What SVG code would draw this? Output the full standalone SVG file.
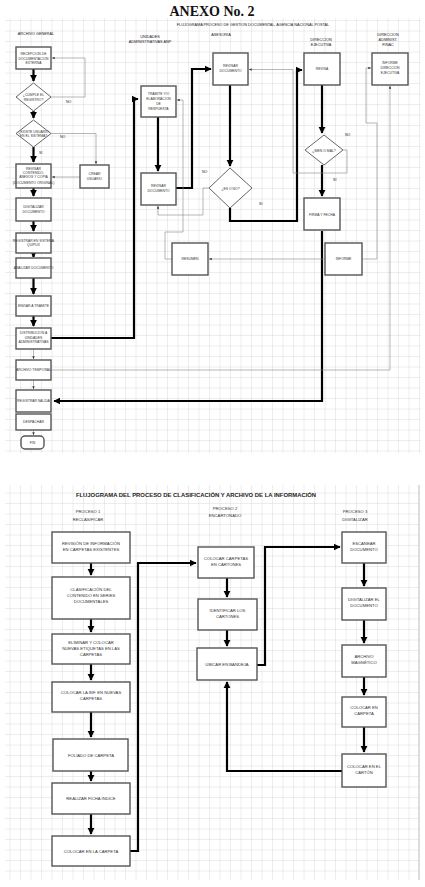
<svg xmlns="http://www.w3.org/2000/svg" width="425" height="887" viewBox="0 0 425 887">
<defs>
<pattern id="grid" width="10.5" height="10.5" patternUnits="userSpaceOnUse">
<path d="M10.5 0V10.5H0" fill="none" stroke="#c4c4c4" stroke-width="0.6"/>
</pattern>
<marker id="ah" viewBox="0 0 10 10" refX="9" refY="5" markerWidth="3.2" markerHeight="3.2" orient="auto" markerUnits="strokeWidth">
<path d="M0 0L10 5L0 10z" fill="#000"/>
</marker>
<marker id="at" viewBox="0 0 10 10" refX="9" refY="5" markerWidth="5" markerHeight="5" orient="auto" markerUnits="strokeWidth">
<path d="M0 1L10 5L0 9z" fill="#333"/>
</marker>
</defs>
<style>
.bx{fill:#fff;stroke:#555;stroke-width:1.4}
.dm{fill:#fff;stroke:#555;stroke-width:0.9}
.t{font-family:"Liberation Sans",Arial,sans-serif;font-size:3.4px;fill:#333;text-anchor:middle}
.tb{font-family:"Liberation Sans",Arial,sans-serif;font-size:4.2px;fill:#333;text-anchor:middle}
.h{font-family:"Liberation Sans",Arial,sans-serif;font-size:3.8px;fill:#222;text-anchor:middle}
.lb{font-family:"Liberation Sans",Arial,sans-serif;font-size:3.6px;fill:#222}
.thick{fill:none;stroke:#000;stroke-width:2.2}
.thin{fill:none;stroke:#888;stroke-width:0.6}
</style>
<rect width="425" height="887" fill="#fff"/>
<rect x="5" y="18" width="416" height="435" fill="url(#grid)"/>
<rect x="5" y="485" width="414" height="395" fill="url(#grid)"/>
<line x1="419" y1="485" x2="419" y2="880" stroke="#bbb" stroke-width="1"/>

<text x="212" y="16" font-family="Liberation Serif,serif" font-size="14" font-weight="bold" text-anchor="middle" fill="#111">ANEXO No. 2</text>
<text x="253" y="26" class="h" font-size="3.4">FLUJOGRAMA PROCESO DE GESTION DOCUMENTAL, AGENCIA NACIONAL POSTAL</text>
<g id="headers">
<text x="36" y="35" class="h">ARCHIVO GENERAL</text>
<text x="150" y="38" class="h">UNIDADES</text>
<text x="150" y="43" class="h">ADMINISTRATIVAS ANP</text>
<text x="221" y="36" class="h">ASESORIA</text>
<text x="321" y="41" class="h">DIRECCION</text>
<text x="321" y="46" class="h">EJECUTIVA</text>
<text x="388" y="36" class="h">DIRECCION</text>
<text x="388" y="41" class="h">ADMINIST.</text>
<text x="388" y="46" class="h">FINAC</text>
</g>

<g id="connectors-top">
<path class="thick" d="M33.5 69V81" marker-end="url(#ah)"/>
<path class="thick" d="M33.5 111V118" marker-end="url(#ah)"/>
<path class="thick" d="M33.5 147V162" marker-end="url(#ah)"/>
<path class="thick" d="M33.5 188V196" marker-end="url(#ah)"/>
<path class="thick" d="M33.5 221V231" marker-end="url(#ah)"/>
<path class="thick" d="M33.5 253V257" marker-end="url(#ah)"/>
<path class="thick" d="M33.5 278V294" marker-end="url(#ah)"/>
<path class="thick" d="M33.5 316V326" marker-end="url(#ah)"/>
<path class="thin" d="M33.5 349V359" marker-end="url(#at)"/>
<path class="thin" d="M33.5 380V389" marker-end="url(#at)"/>
<path class="thin" d="M33.5 430V435" marker-end="url(#at)"/>
<path class="thin" d="M51 97H85V58H52" marker-end="url(#at)"/>
<path class="thin" d="M51 133.5H96V164" marker-end="url(#at)"/>
<path class="thin" d="M80 177H52" marker-end="url(#at)"/>
<path class="thick" d="M51 338H134V99H138" marker-end="url(#ah)"/>
<path class="thick" d="M158 117V171" marker-end="url(#ah)"/>
<path class="thick" d="M176 188H192V69H211" marker-end="url(#ah)"/>
<path class="thick" d="M230 85V166" marker-end="url(#ah)"/>
<path class="thick" d="M230 208V221H297V70H302" marker-end="url(#ah)"/>
<path class="thin" d="M209 188H203V215H158V206" marker-end="url(#at)"/>
<path class="thick" d="M322 85V133" marker-end="url(#ah)"/>
<path class="thick" d="M322 165V196" marker-end="url(#ah)"/>
<path class="thin" d="M343 150H347V173H293V69.5H249" marker-end="url(#at)"/>
<path class="thick" d="M322 231V401H54" marker-end="url(#ah)"/>
<path class="thin" d="M325 259H209" marker-end="url(#at)"/>
<path class="thin" d="M172 259H165V232H183V100H177" marker-end="url(#at)"/>
<path class="thin" d="M363 259H377V123H366V68H371" marker-end="url(#at)"/>
<path class="thin" d="M51 370H390V86" marker-end="url(#at)"/>
</g>
<g id="edge-labels">
<text x="66" y="103" class="lb">NO</text>
<text x="60" y="138" class="lb">NO</text>
<text x="39" y="154" class="lb">SI</text>
<text x="202" y="173" class="lb">NO</text>
<text x="259" y="205" class="lb">SI</text>
<text x="345" y="136" class="lb">NO</text>
<text x="333" y="181" class="lb">SI</text>
</g>

<g id="n-recepcion"><rect class="bx" x="16" y="47" width="35" height="22"/><text class="t" x="33.5" y="55">RECEPCION DE</text><text class="t" x="33.5" y="59.5">DOCUMENTACION</text><text class="t" x="33.5" y="64">EXTERNA</text></g>
<g id="d-cumple"><path class="dm" d="M33.5 83L51 97L33.5 111L16 97z"/><text class="t" x="33.5" y="96">¿CUMPLE EL</text><text class="t" x="33.5" y="100.5">REGISTRO?</text></g>
<g id="d-usuario"><path class="dm" d="M33.5 120L51 133.5L33.5 147L16 133.5z"/><text class="t" x="33.5" y="132.5">¿EXISTE USUARIO</text><text class="t" x="33.5" y="137">EN EL SISTEMA?</text></g>
<g id="n-revisar-contenido"><rect class="bx" x="16" y="164" width="35" height="24"/><text class="t" x="33.5" y="170">REVISAR</text><text class="t" x="33.5" y="174">CONTENIDO,</text><text class="t" x="33.5" y="178">ANEXOS Y COPIA</text><text class="t" x="33.5" y="184" font-size="2.6">(DOCUMENTO ORIGINAL)</text></g>
<g id="n-crear-usuario"><rect class="bx" x="80" y="165" width="29" height="23"/><text class="t" x="94.5" y="175">CREAR</text><text class="t" x="94.5" y="180">USUARIO</text></g>
<g id="n-digitalizar"><rect class="bx" x="16" y="198" width="35" height="23"/><text class="t" x="33.5" y="208">DIGITALIZAR</text><text class="t" x="33.5" y="212.5">DOCUMENTO</text></g>
<g id="n-registrar"><rect class="bx" x="16" y="233" width="35" height="20"/><text class="t" x="33.5" y="241.5">REGISTRAR EN SISTEMA</text><text class="t" x="33.5" y="246">QUIPUX</text></g>
<g id="n-analizar"><rect class="bx" x="16" y="258" width="35" height="20"/><text class="t" x="33.5" y="269">ANALIZAR DOCUMENTO</text></g>
<g id="n-enviar"><rect class="bx" x="16" y="296" width="35" height="20"/><text class="t" x="33.5" y="307">ENVIAR A TRAMITE</text></g>
<g id="n-distribucion"><rect class="bx" x="16" y="328" width="35" height="21"/><text class="t" x="33.5" y="334">DISTRIBUCION A</text><text class="t" x="33.5" y="338.5">UNIDADES</text><text class="t" x="33.5" y="343">ADMINISTRATIVAS</text></g>
<g id="n-archivo-temporal"><rect class="bx" x="16" y="360" width="35" height="20"/><text class="t" x="33.5" y="371">ARCHIVO TEMPORAL</text></g>
<g id="n-registrar-salida"><rect class="bx" x="16" y="390" width="35" height="22"/><text class="t" x="33.5" y="402">REGISTRAR SALIDA</text></g>
<g id="n-despachar"><rect class="bx" x="16" y="414" width="35" height="16"/><text class="t" x="33.5" y="423">DESPACHAR</text></g>
<g id="n-fin"><rect class="bx" x="21" y="436" width="23" height="13" rx="4"/><text class="t" x="32.5" y="443.5">FIN</text></g>

<g id="n-tramite"><rect class="bx" x="141" y="86" width="35" height="31"/><text class="t" x="158.5" y="95">TRAMITE Y/O</text><text class="t" x="158.5" y="100">ELABORACION</text><text class="t" x="158.5" y="105">DE</text><text class="t" x="158.5" y="110">RESPUESTA</text></g>
<g id="n-revisar-unidad"><rect class="bx" x="141" y="173" width="35" height="32"/><text class="t" x="158.5" y="187">REVISAR</text><text class="t" x="158.5" y="192">DOCUMENTO</text></g>
<g id="n-revisar-asesoria"><rect class="bx" x="213" y="53" width="35" height="32"/><text class="t" x="230.5" y="67">REVISAR</text><text class="t" x="230.5" y="72">DOCUMENTO</text></g>
<g id="d-asesoria"><path class="dm" d="M230 168L252 188L230 208L209 188z"/><text class="t" x="230.5" y="189.5">¿ES O NO?</text></g>
<g id="n-resumen"><rect class="bx" x="172" y="243" width="36" height="32"/><text class="t" x="190" y="260">RESUMEN</text></g>
<g id="n-revisa"><rect class="bx" x="304" y="53" width="36" height="32"/><text class="t" x="322" y="70">REVISA</text></g>
<g id="d-direccion"><path class="dm" d="M324 135L343 150L324 165L305 150z"/><text class="t" x="324" y="151.5">¿BIEN O MAL?</text></g>
<g id="n-firma"><rect class="bx" x="304" y="198" width="36" height="32"/><text class="t" x="322" y="215.5">FIRMA Y FECHA</text></g>
<g id="n-informe"><rect class="bx" x="325" y="243" width="37" height="32"/><text class="t" x="343.5" y="260">INFORME</text></g>
<g id="n-informe-dir"><rect class="bx" x="372" y="53" width="36" height="32"/><text class="t" x="390" y="64">INFORME</text><text class="t" x="390" y="69">DIRECCION</text><text class="t" x="390" y="74">EJECUTIVA</text></g>

<text x="196" y="497" font-family="Liberation Sans,Arial,sans-serif" font-size="5.9" font-weight="bold" fill="#222" text-anchor="middle">FLUJOGRAMA DEL PROCESO DE CLASIFICACIÓN Y ARCHIVO DE LA INFORMACIÓN</text>
<g id="headers-bottom">
<text x="88" y="513" class="tb">PROCESO 1</text>
<text x="88" y="521" class="tb">RECLASIFICAR</text>
<text x="225" y="510" class="tb">PROCESO 2</text>
<text x="225" y="517" class="tb">ENCARTONADO</text>
<text x="355" y="513" class="tb">PROCESO 3</text>
<text x="355" y="521" class="tb">DIGITALIZAR</text>
</g>
<g id="connectors-bottom">
<path class="thick" d="M91 563V575" marker-end="url(#ah)"/>
<path class="thick" d="M91 619V632" marker-end="url(#ah)"/>
<path class="thick" d="M91 664V680" marker-end="url(#ah)"/>
<path class="thick" d="M91 712V737" marker-end="url(#ah)"/>
<path class="thick" d="M91 771V781" marker-end="url(#ah)"/>
<path class="thick" d="M91 814V834" marker-end="url(#ah)"/>
<path class="thick" d="M130 851H138V563H196" marker-end="url(#ah)"/>
<path class="thick" d="M227 578V597" marker-end="url(#ah)"/>
<path class="thick" d="M227 630V646" marker-end="url(#ah)"/>
<path class="thick" d="M257 665H265V547H340" marker-end="url(#ah)"/>
<path class="thick" d="M364 563V586" marker-end="url(#ah)"/>
<path class="thick" d="M364 620V643" marker-end="url(#ah)"/>
<path class="thick" d="M364 677V695" marker-end="url(#ah)"/>
<path class="thick" d="M364 727V752" marker-end="url(#ah)"/>
<path class="thick" d="M342 771H227V682" marker-end="url(#ah)"/>
</g>
<g id="b-revision"><rect class="bx" x="52" y="532" width="78" height="31"/><text class="tb" x="91" y="545">REVISIÓN DE INFORMACIÓN</text><text class="tb" x="91" y="551">EN CARPETAS EXISTENTES</text></g>
<g id="b-clasificacion"><rect class="bx" x="52" y="577" width="78" height="42"/><text class="tb" x="91" y="591">CLASIFICACIÓN DEL</text><text class="tb" x="91" y="597">CONTENIDO EN SERIES</text><text class="tb" x="91" y="603">DOCUMENTALES</text></g>
<g id="b-etiquetas"><rect class="bx" x="52" y="634" width="78" height="30"/><text class="tb" x="91" y="644">ELIMINAR Y COLOCAR</text><text class="tb" x="91" y="650">NUEVAS ETIQUETAS EN LAS</text><text class="tb" x="91" y="656">CARPETAS</text></g>
<g id="b-colocar-inf"><rect class="bx" x="52" y="682" width="78" height="30"/><text class="tb" x="91" y="694">COLOCAR LA INF. EN NUEVAS</text><text class="tb" x="91" y="700">CARPETAS</text></g>
<g id="b-foliado"><rect class="bx" x="53" y="739" width="75" height="32"/><text class="tb" x="91" y="756.5">FOLIADO DE CARPETA</text></g>
<g id="b-ficha"><rect class="bx" x="52" y="783" width="78" height="31"/><text class="tb" x="91" y="800">REALIZAR FICHA ÍNDICE</text></g>
<g id="b-colocar-carpeta"><rect class="bx" x="52" y="836" width="78" height="30"/><text class="tb" x="91" y="852.5">COLOCAR EN LA CARPETA</text></g>
<g id="b-cartones"><rect class="bx" x="198" y="547" width="56" height="31"/><text class="tb" x="226" y="560">COLOCAR CARPETAS</text><text class="tb" x="226" y="566">EN CARTONES</text></g>
<g id="b-identificar"><rect class="bx" x="198" y="599" width="59" height="31"/><text class="tb" x="227.5" y="612">IDENTIFICAR LOS</text><text class="tb" x="227.5" y="618">CARTONES</text></g>
<g id="b-bandeja"><rect class="bx" x="197" y="648" width="60" height="32"/><text class="tb" x="227" y="666">UBICAR EN BANDEJA</text></g>
<g id="b-escanear"><rect class="bx" x="342" y="532" width="44" height="31"/><text class="tb" x="364" y="545">ESCANEAR</text><text class="tb" x="364" y="551">DOCUMENTO</text></g>
<g id="b-digitalizar"><rect class="bx" x="342" y="588" width="44" height="32"/><text class="tb" x="364" y="601">DIGITALIZAR EL</text><text class="tb" x="364" y="607">DOCUMENTO</text></g>
<g id="b-magnetico"><rect class="bx" x="342" y="645" width="44" height="32"/><text class="tb" x="364" y="658">ARCHIVO</text><text class="tb" x="364" y="664">MAGNÉTICO</text></g>
<g id="b-colocar-en-carpeta"><rect class="bx" x="342" y="697" width="44" height="30"/><text class="tb" x="364" y="709">COLOCAR EN</text><text class="tb" x="364" y="715">CARPETA</text></g>
<g id="b-carton"><rect class="bx" x="342" y="754" width="44" height="33"/><text class="tb" x="364" y="768">COLOCAR EN EL</text><text class="tb" x="364" y="774">CARTÓN</text></g>
</svg>
